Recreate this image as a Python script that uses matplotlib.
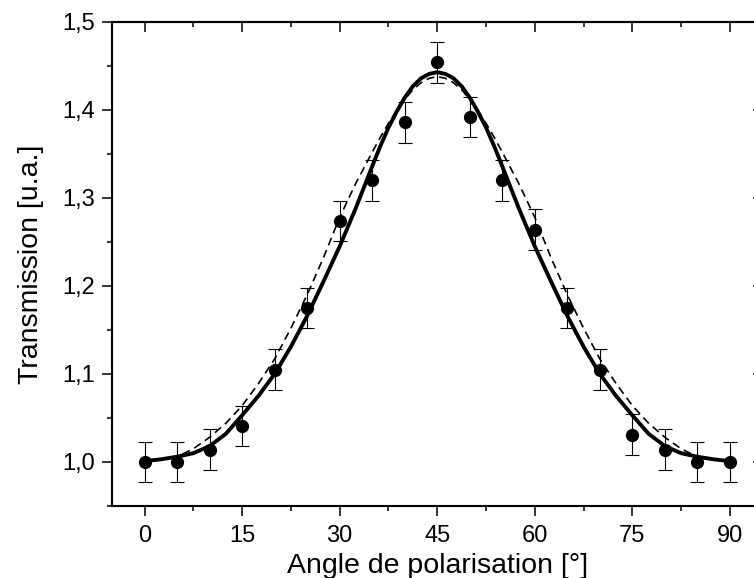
#!/usr/bin/env python3

import matplotlib
matplotlib.use('Agg')
import matplotlib.pyplot as plt
from matplotlib.ticker import MultipleLocator, FuncFormatter

plt.rcParams['font.family'] = ['Liberation Sans', 'DejaVu Sans']

# measured points
angle = [0, 5, 10, 15, 20, 25, 30, 35, 40, 45, 50, 55, 60, 65, 70, 75, 80, 85, 90]
trans = [1.000, 1.000, 1.014, 1.041, 1.105, 1.175, 1.274, 1.320, 1.386, 1.454,
         1.392, 1.320, 1.264, 1.175, 1.105, 1.031, 1.014, 1.000, 1.000]
err = [0.023] * len(angle)

# curves
curve_angle = [0, 2.5, 5, 7.5, 10, 12.5, 15, 17.5, 20, 22.5, 25, 27.5, 30, 32.5,
               35, 36.25, 37.5, 38.75, 40, 41.25, 42.5, 43.75, 45, 46.25, 47.5, 48.75,
               50, 51.25, 52.5, 53.75, 55, 57.5, 60, 62.5, 65, 67.5, 70, 72.5,
               75, 77.5, 80, 82.5, 85, 87.5, 90]
fit_solid = [1.001, 1.003, 1.006, 1.010, 1.018, 1.032, 1.053, 1.075, 1.100, 1.131,
             1.166, 1.205, 1.245, 1.289,
             1.336, 1.359, 1.380, 1.398, 1.414, 1.427, 1.436, 1.441, 1.443, 1.441,
             1.436, 1.427, 1.414, 1.398, 1.380, 1.359, 1.336,
             1.289, 1.245, 1.205, 1.166, 1.131, 1.100, 1.075,
             1.053, 1.032, 1.018, 1.010, 1.006, 1.003, 1.001]
fit_dash = [1.001, 1.003, 1.006, 1.015, 1.028, 1.044, 1.064, 1.089, 1.117, 1.152,
            1.190, 1.232, 1.278, 1.317,
            1.352, 1.369, 1.385, 1.399, 1.412, 1.423, 1.431, 1.436, 1.438, 1.436,
            1.431, 1.423, 1.412, 1.399, 1.385, 1.369, 1.352,
            1.317, 1.278, 1.232, 1.190, 1.152, 1.117, 1.089,
            1.064, 1.044, 1.028, 1.015, 1.006, 1.003, 1.001]

fig = plt.figure(figsize=(7.54, 5.78), dpi=100)
ax = fig.add_axes([112/754, 72/578, 650.5/754, 484/578])

ax.plot(curve_angle, fit_dash, c='black', lw=1.2, dashes=(4.8, 3))
ax.plot(curve_angle, fit_solid, c='black', lw=2.8)
ax.errorbar(angle, trans, yerr=err, fmt='o', color='black', ms=8.5,
            ecolor='black', elinewidth=0.8, capsize=5, capthick=0.8, zorder=5)

ax.set_xlim(-5, 95)
ax.set_ylim(0.95, 1.5)
ax.xaxis.set_major_locator(MultipleLocator(15))
ax.xaxis.set_minor_locator(MultipleLocator(7.5))
ax.yaxis.set_major_locator(MultipleLocator(0.1))
ax.yaxis.set_minor_locator(MultipleLocator(0.05))
ax.yaxis.set_major_formatter(FuncFormatter(lambda v, p: f'{v:.1f}'.replace('.', ',')))

ax.tick_params(which='both', direction='out', top=False, right=False,
               width=1.1, labelsize=17, pad=5)
ax.tick_params(axis='x', pad=6.5)
ax.tick_params(which='major', length=7.2)
ax.tick_params(which='minor', length=3.6)
for s in ax.spines.values():
    s.set_linewidth(1.5)

# top and right ticks point inwards
top = ax.secondary_xaxis('top')
top.xaxis.set_major_locator(MultipleLocator(15))
top.xaxis.set_minor_locator(MultipleLocator(7.5))
top.tick_params(which='both', direction='in', labeltop=False, width=1.1)
top.tick_params(which='major', length=7.2)
top.tick_params(which='minor', length=3.6)
top.spines['top'].set_linewidth(1.5)

right = ax.secondary_yaxis('right')
right.yaxis.set_major_locator(MultipleLocator(0.1))
right.yaxis.set_minor_locator(MultipleLocator(0.05))
right.tick_params(which='both', direction='in', labelright=False, width=1.1)
right.tick_params(which='major', length=7.2)
right.tick_params(which='minor', length=3.6)
right.spines['right'].set_linewidth(1.5)

ax.set_xlabel('Angle de polarisation [°]', fontsize=20.5, labelpad=4.5)
ax.set_ylabel('Transmission [u.a.]', fontsize=20.5, labelpad=13)

fig.savefig('out.png', dpi=100)
